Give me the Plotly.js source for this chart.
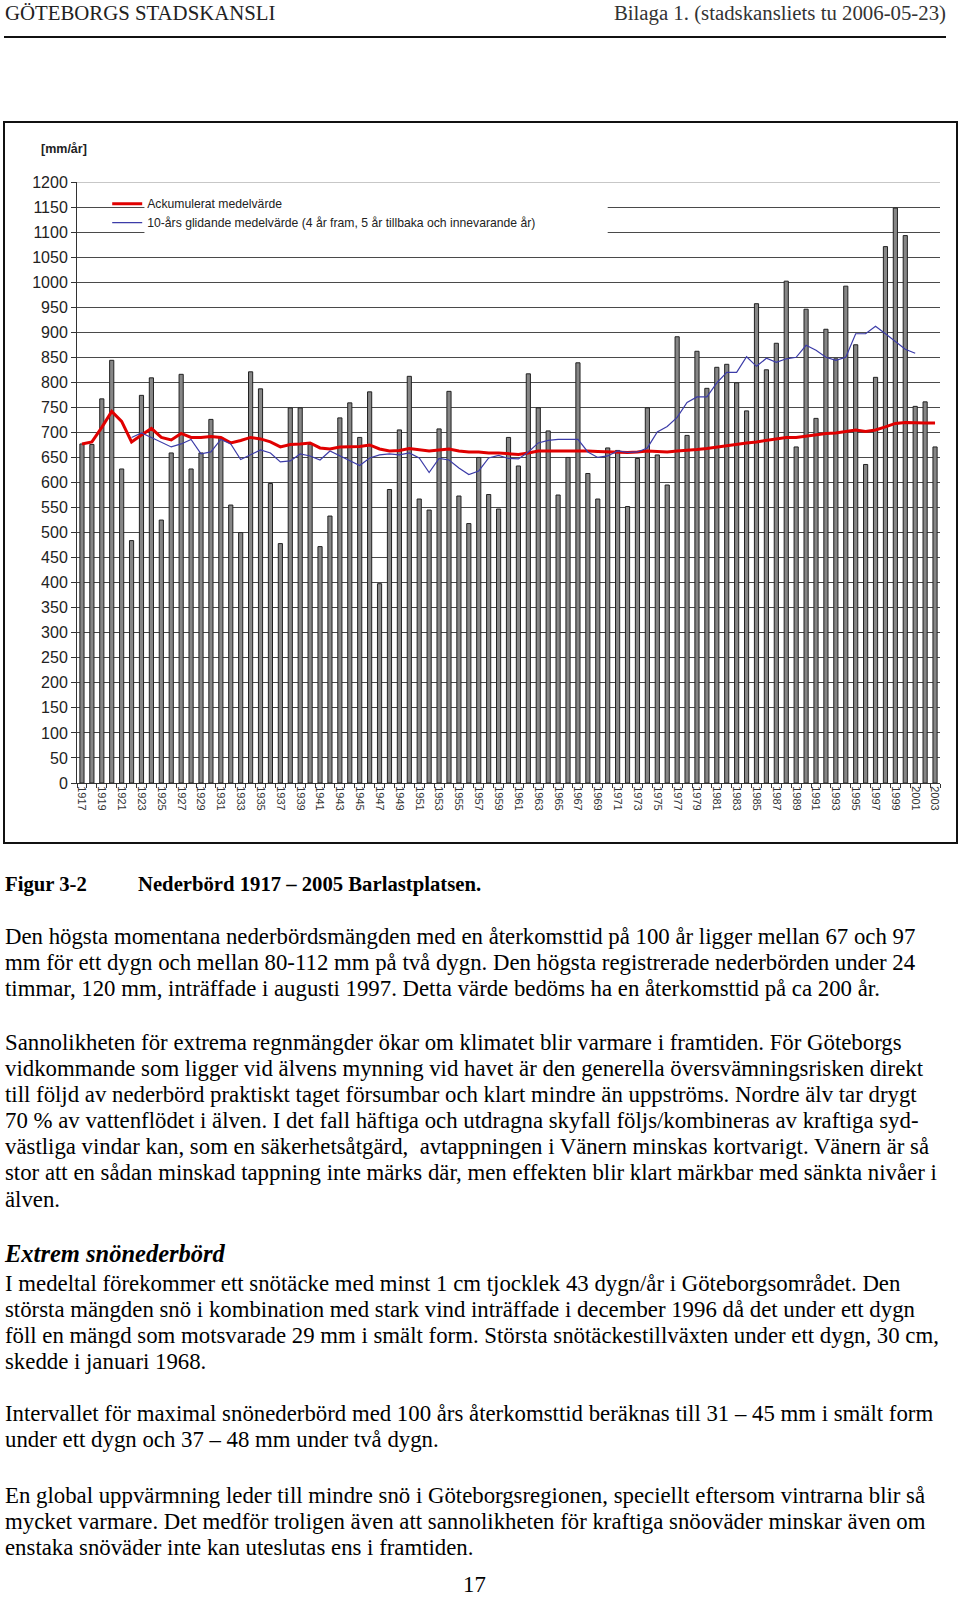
<!DOCTYPE html>
<html>
<head>
<meta charset="utf-8">
<script src="https://cdn.plot.ly/plotly-3.0.1.min.js"></script>
<style>
  html, body { margin:0; padding:0; background:#fff; }
  body { width:960px; height:1597px; position:relative; overflow:hidden; font-family:"Liberation Serif","Times New Roman",serif; color:#000; }
  .t { position:absolute; left:5px; white-space:pre; font-size:22.8px; line-height:26.1px; }
  #hdrL { position:absolute; left:5px; top:1px; font-size:20.8px; color:#222; white-space:pre; }
  #hdrR { position:absolute; right:14px; top:1px; font-size:20.8px; color:#333; white-space:pre; }
  #rule { position:absolute; left:4px; top:36px; width:942px; height:2px; background:#111; }
  #frame { position:absolute; left:3px; top:121px; width:951px; height:719px; border:2px solid #111; }
  #chart { width:951px; height:719px; }
</style>
</head>
<body>
<div id="hdrL">GÖTEBORGS STADSKANSLI</div>
<div id="hdrR">Bilaga 1. (stadskansliets tu 2006-05-23)</div>
<div id="rule"></div>
<div id="frame"><div id="chart"></div></div>

<div class="t" style="top:871px;font-weight:bold;font-size:20.7px;">Figur 3-2</div>
<div class="t" style="top:871px;left:138px;font-weight:bold;font-size:20.7px;">Nederbörd 1917 – 2005 Barlastplatsen.</div>

<div class="t" style="top:924px;">Den högsta momentana nederbördsmängden med en återkomsttid på 100 år ligger mellan 67 och 97
mm för ett dygn och mellan 80-112 mm på två dygn. Den högsta registrerade nederbörden under 24
timmar, 120 mm, inträffade i augusti 1997. Detta värde bedöms ha en återkomsttid på ca 200 år.</div>

<div class="t" style="top:1030px;">Sannolikheten för extrema regnmängder ökar om klimatet blir varmare i framtiden. För Göteborgs
vidkommande som ligger vid älvens mynning vid havet är den generella översvämningsrisken direkt
till följd av nederbörd praktiskt taget försumbar och klart mindre än uppströms. Nordre älv tar drygt
70 % av vattenflödet i älven. I det fall häftiga och utdragna skyfall följs/kombineras av kraftiga syd-
västliga vindar kan, som en säkerhetsåtgärd,  avtappningen i Vänern minskas kortvarigt. Vänern är så
stor att en sådan minskad tappning inte märks där, men effekten blir klart märkbar med sänkta nivåer i
älven.</div>

<div class="t" style="top:1241px;font-weight:bold;font-style:italic;font-size:24.5px;">Extrem snönederbörd</div>

<div class="t" style="top:1271px;">I medeltal förekommer ett snötäcke med minst 1 cm tjocklek 43 dygn/år i Göteborgsområdet. Den
största mängden snö i kombination med stark vind inträffade i december 1996 då det under ett dygn
föll en mängd som motsvarade 29 mm i smält form. Största snötäckestillväxten under ett dygn, 30 cm,
skedde i januari 1968.</div>

<div class="t" style="top:1401px;">Intervallet för maximal snönederbörd med 100 års återkomsttid beräknas till 31 – 45 mm i smält form
under ett dygn och 37 – 48 mm under två dygn.</div>

<div class="t" style="top:1483px;">En global uppvärmning leder till mindre snö i Göteborgsregionen, speciellt eftersom vintrarna blir så
mycket varmare. Det medför troligen även att sannolikheten för kraftiga snöoväder minskar även om
enstaka snöväder inte kan uteslutas ens i framtiden.</div>

<div class="t" style="top:1572px;left:463px;">17</div>

<script>
// ---- data ----
var years = [1917,1918,1919,1920,1921,1922,1923,1924,1925,1926,1927,1928,1929,1930,1931,1932,1933,1934,1935,1936,
             1937,1938,1939,1940,1941,1942,1943,1944,1945,1946,1947,1948,1949,1950,1951,1952,1953,1954,1955,1956,
             1957,1958,1959,1960,1961,1962,1963,1964,1965,1966,1967,1968,1969,1970,1971,1972,1973,1974,1975,1976,
             1977,1978,1979,1980,1981,1982,1983,1984,1985,1986,1987,1988,1989,1990,1991,1992,1993,1994,1995,1996,
             1997,1998,1999,2000,2001,2002,2003];

// annual precipitation [mm/år]
var precipitation = [677,676,767,844,627,484,774,809,525,659,816,627,659,726,690,555,500,821,787,598,
                     478,749,749,676,472,533,729,759,690,781,398,586,705,812,567,545,707,782,573,518,
                     650,576,547,690,633,817,749,703,575,650,839,618,567,669,664,552,648,749,655,595,
                     891,694,862,788,830,836,799,743,957,825,878,1002,671,946,728,906,847,992,875,636,
                     810,1071,1148,1093,752,761,671];

// Ackumulerat medelvärde
var cumulativeMean = [677,681,710,742,722,681,695,708,690,685,698,690,690,692,690,679,684,690,687,681,
                      671,676,677,679,669,667,671,671,672,675,667,663,664,668,665,663,665,667,663,661,
                      661,659,659,658,656,659,663,663,663,663,664,663,662,661,661,660,661,663,662,661,
                      663,664,666,668,671,673,676,679,681,684,687,690,690,693,695,698,699,702,705,702,
                      705,711,718,720,719,719,719];

// 10-års glidande medelvärde (1922–2001)
var movingAvg = [null,null,null,null,null,690,699,690,681,671,677,686,657,661,686,677,646,656,665,659,
                 641,643,657,653,645,663,653,643,634,649,655,657,655,659,649,620,648,645,629,616,
                 623,649,654,648,647,661,679,684,686,686,686,661,650,653,663,660,661,669,701,712,
                 730,760,771,771,799,820,820,851,832,848,840,847,850,874,864,850,844,850,897,897,
                 912,897,881,866,858,null,null];

var labelYears = years.filter(function(y){ return y % 2 === 1; });
var labelText = labelYears.map(String);

var traces = [
  { type:'bar', x:years, y:precipitation, width:0.42, showlegend:false,
    marker:{ color:'#868686', line:{ color:'#222', width:1 } }, hoverinfo:'skip' },
  { type:'scatter', mode:'lines', x:years, y:cumulativeMean, name:'Ackumulerat medelvärde',
    line:{ color:'#e00000', width:3 } },
  { type:'scatter', mode:'lines', x:years, y:movingAvg, name:'10-års glidande medelvärde (4 år fram, 5 år tillbaka och innevarande år)',
    line:{ color:'#3c3ca8', width:1.2 }, connectgaps:false }
];

var layout = {
  width:951, height:719,
  margin:{ l:72, r:16, t:59, b:59 },
  paper_bgcolor:'#fff', plot_bgcolor:'#fff',
  font:{ family:'"Liberation Sans", Arial, sans-serif', color:'#222' },
  showlegend:true,
  legend:{ x:0.035, y:0.988, xanchor:'left', yanchor:'top', bgcolor:'rgba(0,0,0,0)',
           font:{ size:12.2, color:'#222' }, tracegroupgap:0, traceorder:'normal' },
  xaxis:{ range:[1916.5, 2003.5], tickmode:'array', tickvals:labelYears, ticktext:labelText,
          tickangle:90, tickfont:{ size:11, color:'#333' }, ticks:'', showgrid:false,
          showline:true, linecolor:'#333', linewidth:1, zeroline:false, fixedrange:true,
          minor:{ tickmode:'linear', tick0:1916.5, dtick:1, ticks:'outside', ticklen:4,
                  tickcolor:'#333', tickwidth:1, showgrid:false } },
  yaxis:{ range:[0,1200], tickmode:'linear', tick0:0, dtick:50, ticks:'outside', ticklen:5,
          tickcolor:'#333', tickfont:{ size:16, color:'#222' }, showgrid:true, gridcolor:'#4a4a4a',
          gridwidth:1, showline:true, linecolor:'#333', linewidth:1, zeroline:false, fixedrange:true },
  bargap:0.55,
  shapes:[
    { type:'rect', xref:'x', yref:'y', x0:1923.3, x1:1970.0, y0:1088, y1:1165,
      fillcolor:'#fff', line:{ width:0 }, layer:'above' },
    { type:'line', xref:'paper', yref:'y', x0:0, x1:1, y0:1200, y1:1200,
      line:{ color:'#b4b4b4', width:1.5 }, layer:'above' }
  ],
  annotations:[
    { xref:'paper', yref:'paper', x:-0.044, y:1.055, xanchor:'left', yanchor:'middle',
      text:'<b>[mm/år]</b>', showarrow:false, font:{ size:12.5, color:'#222' } }
  ]
};

Plotly.newPlot('chart', traces, layout, { staticPlot:true, displayModeBar:false });
</script>
</body>
</html>
